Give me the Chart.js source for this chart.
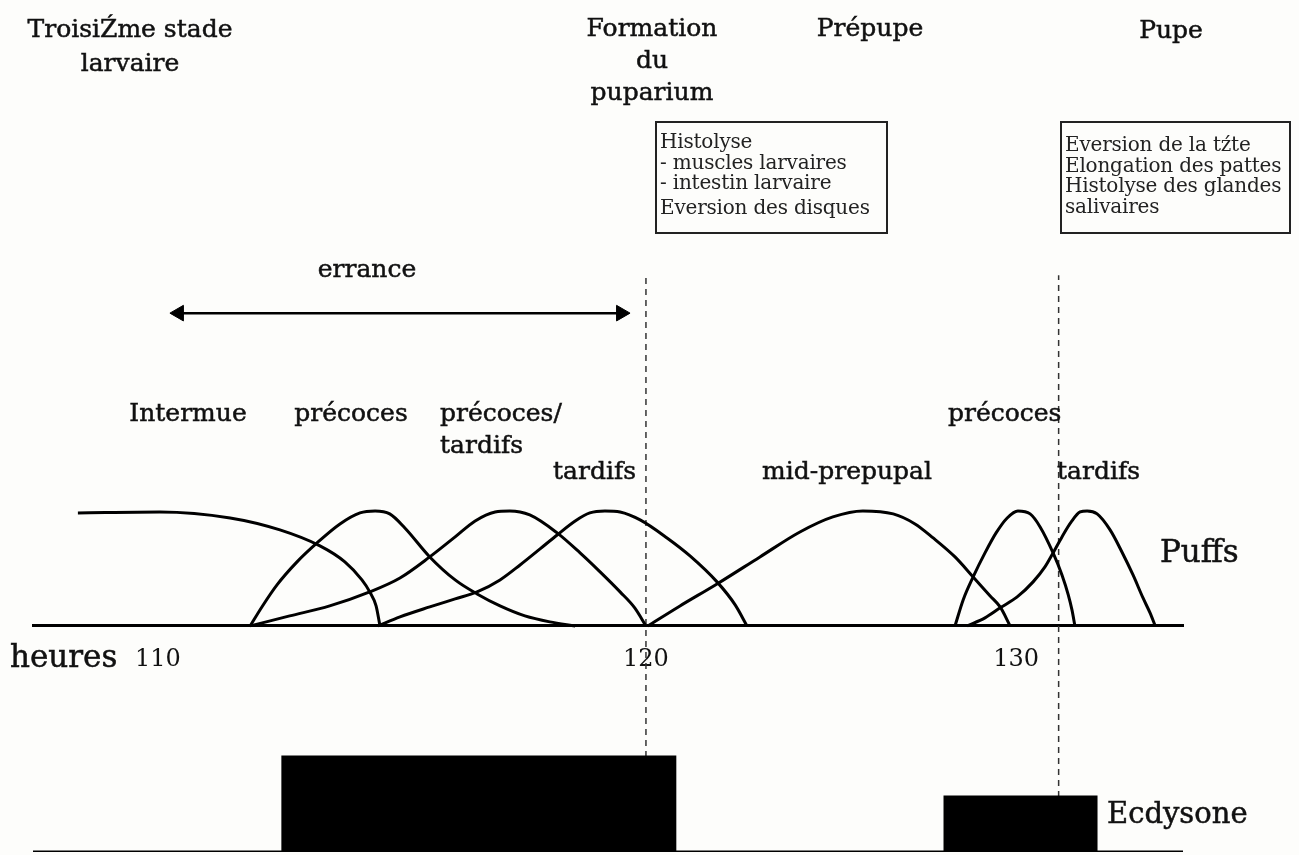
<!DOCTYPE html>
<html>
<head>
<meta charset="utf-8">
<script src="https://cdn.jsdelivr.net/npm/chart.js@4.4.1/dist/chart.umd.min.js"></script>
<style>
html,body{margin:0;padding:0;background:#fdfdfb;}
#wrap{position:relative;width:1299px;height:855px;overflow:hidden;font-family:"DejaVu Serif",serif;color:#111;}
#wrap canvas{position:absolute;left:0;top:0;}
.t{position:absolute;font-size:25px;line-height:32px;white-space:nowrap;-webkit-text-stroke:0.5px #111;}
.c{text-align:center;transform:translateX(-50%);}
.box{position:absolute;border:2px solid #222;font-size:20px;line-height:20.5px;color:#222;white-space:nowrap;padding:8px 0 0 3px;box-sizing:border-box;letter-spacing:-0.2px;}
</style>
</head>
<body>
<div id="wrap">
  <canvas id="chart" width="1299" height="855"></canvas>

  <div class="t c" style="left:130px;top:12px;line-height:34px;">TroisiŹme stade<br>larvaire</div>
  <div class="t c" style="left:652px;top:12px;">Formation<br>du<br>puparium</div>
  <div class="t c" style="left:870px;top:12px;">Prépupe</div>
  <div class="t c" style="left:1171px;top:14px;">Pupe</div>

  <div class="box" style="left:655px;top:121px;width:233px;height:113px;">Histolyse<br>- muscles larvaires<br>- intestin larvaire<div style="margin-top:4px">Eversion des disques</div></div>
  <div class="box" style="left:1060px;top:121px;width:231px;height:113px;padding-top:11px;">Eversion de la tźte<br>Elongation des pattes<br>Histolyse des glandes<br>salivaires</div>

  <div class="t c" style="left:367px;top:253px;">errance</div>

  <div class="t c" style="left:188px;top:397px;">Intermue</div>
  <div class="t c" style="left:351px;top:397px;">précoces</div>
  <div class="t" style="left:440px;top:397px;">précoces/<br>tardifs</div>
  <div class="t" style="left:553px;top:455px;">tardifs</div>
  <div class="t c" style="left:847px;top:455px;">mid-prepupal</div>
  <div class="t" style="left:948px;top:397px;">précoces</div>
  <div class="t" style="left:1057px;top:455px;">tardifs</div>

  <div class="t" style="left:1160px;top:535px;font-size:31px;">Puffs</div>
  <div class="t" style="left:10px;top:640px;font-size:31px;">heures</div>
  <div class="t" style="left:1107px;top:797px;font-size:29px;">Ecdysone</div>
</div>

<script>
// ---------------- data (hours, relative level) ----------------
const hourTicks = [110, 120, 130];

const puffIntermue = [[108.36,0.983],[110.04,0.991],[111.48,0.939],[112.50,0.835],[113.32,0.696],[113.83,0.557],[114.18,0.400],[114.34,0.296],[114.47,0.174],[114.55,0]];
const puffPrecoces = [[111.89,0],[112.13,0.165],[112.44,0.357],[112.85,0.557],[113.26,0.722],[113.73,0.887],[114.14,0.983],[114.45,1.0],[114.75,0.974],[115.06,0.852],[115.57,0.600],[116.09,0.400],[116.54,0.278],[117.01,0.174],[117.52,0.087],[118.03,0.035],[118.55,0]];
const puffPrecocesTardifs = [[111.89,0],[112.70,0.087],[113.52,0.174],[114.34,0.296],[114.96,0.417],[115.57,0.600],[116.09,0.774],[116.50,0.913],[116.91,0.991],[117.21,1.0],[117.62,0.965],[118.18,0.809],[118.65,0.635],[119.06,0.470],[119.47,0.296],[119.77,0.157],[120.0,0]];
const puffTardifs = [[114.51,0],[114.96,0.078],[115.57,0.165],[116.09,0.235],[116.54,0.296],[117.01,0.400],[117.42,0.530],[117.83,0.670],[118.18,0.791],[118.55,0.913],[118.85,0.983],[119.16,1.0],[119.47,0.991],[119.88,0.922],[120.57,0.765],[121.19,0.609],[121.92,0.383],[122.41,0.183],[122.73,0]];
const puffMidPrepupal = [[120.05,0],[120.92,0.174],[121.92,0.365],[123.08,0.600],[124.16,0.817],[125.05,0.948],[125.86,1.0],[126.68,0.974],[127.27,0.887],[127.76,0.765],[128.35,0.600],[128.84,0.426],[129.30,0.261],[129.57,0.165],[129.84,0]];
const puffPrecoces2 = [[128.35,0],[128.57,0.226],[128.84,0.426],[129.16,0.635],[129.46,0.809],[129.76,0.939],[130.05,1.0],[130.38,0.974],[130.65,0.861],[131.0,0.635],[131.24,0.443],[131.41,0.270],[131.51,0.139],[131.59,0]];
const puffTardifs2 = [[128.68,0],[129.16,0.070],[129.57,0.157],[130.03,0.252],[130.46,0.383],[130.78,0.513],[131.0,0.635],[131.24,0.774],[131.49,0.904],[131.73,0.991],[131.92,1.0],[132.19,0.974],[132.54,0.835],[132.86,0.643],[133.16,0.443],[133.43,0.243],[133.62,0.113],[133.76,0]];

const ecdysone = [[107.44,0],[112.56,0],[112.56,1],[120.78,1],[120.78,0],[128.08,0],[128.08,0.58],[132.16,0.58],[132.16,0],[134.51,0]];

const errance = [[110.43,2.72],[119.49,2.72]];

// dashed guides: [hour, from level, to level] on ecdysone scale
const guides = [[120, 1, 6.07],[131.15, 0.58, 6.07]];

// ---------------- piecewise hour axis ----------------
class PiecewiseScale extends Chart.LinearScale {
  _dec(v) {
    const b = this.options.breakValue, f = this.options.breakDecimal;
    if (v <= b) return (v - this.min) / (b - this.min) * f;
    return f + (v - b) / (this.max - b) * (1 - f);
  }
  getPixelForValue(value) {
    if (value === null || value === undefined || isNaN(value)) return NaN;
    return this.getPixelForDecimal(this._dec(value));
  }
  getValueForPixel(pixel) {
    const d = this.getDecimalForPixel(pixel);
    const b = this.options.breakValue, f = this.options.breakDecimal;
    if (d <= f) return this.min + d / f * (b - this.min);
    return b + (d - f) / (1 - f) * (this.max - b);
  }
}
PiecewiseScale.id = 'piecewise';
PiecewiseScale.defaults = Chart.LinearScale.defaults;
Chart.register(PiecewiseScale);

const pts = arr => arr.map(p => ({x: p[0], y: p[1]}));
const curve = arr => ({
  data: pts(arr), yAxisID: 'yP', borderColor: '#000', borderWidth: 3,
  pointRadius: 0, cubicInterpolationMode: 'monotone', fill: false
});

const datasets = [
  curve(puffIntermue), curve(puffPrecoces), curve(puffPrecocesTardifs), curve(puffTardifs),
  curve(puffMidPrepupal), curve(puffPrecoces2), curve(puffTardifs2),
  {
    data: pts(errance), yAxisID: 'yP', borderColor: '#000', borderWidth: 2.5,
    pointStyle: 'triangle', pointRadius: 9, pointRotation: [270, 90],
    pointBackgroundColor: '#000', pointBorderColor: '#000', pointBorderWidth: 1, tension: 0
  },
  {
    data: pts(ecdysone), yAxisID: 'yE', borderColor: '#000', borderWidth: 3,
    backgroundColor: '#000', fill: 'origin', pointRadius: 0, tension: 0
  }
];
guides.forEach(g => datasets.push({
  data: [{x: g[0], y: g[1]}, {x: g[0], y: g[2]}], yAxisID: 'yE',
  borderColor: '#333', borderWidth: 1.5, borderDash: [6, 5], pointRadius: 0, tension: 0
}));

new Chart(document.getElementById('chart'), {
  type: 'line',
  data: { datasets },
  options: {
    responsive: false,
    animation: false,
    events: [],
    layout: { autoPadding: false, padding: { left: 33, right: 116, top: 0, bottom: 3 } },
    plugins: { legend: { display: false }, tooltip: { enabled: false } },
    scales: {
      x: {
        type: 'piecewise',
        min: 107.44, max: 134.51,
        breakValue: 120, breakDecimal: 0.533,
        position: { yP: 0 },
        afterBuildTicks: s => { s.ticks = hourTicks.map(v => ({ value: v })); },
        grid: { display: false, drawTicks: false },
        border: { display: true, color: '#000', width: 3 },
        ticks: { padding: 19, color: '#111', font: { family: 'DejaVu Serif', size: 24 }, maxRotation: 0, autoSkip: false }
      },
      yP: { type: 'linear', display: false, min: -1.966, max: 5.443 },
      yE: { type: 'linear', display: false, min: 0, max: 8.968 }
    }
  }
});
</script>
</body>
</html>
